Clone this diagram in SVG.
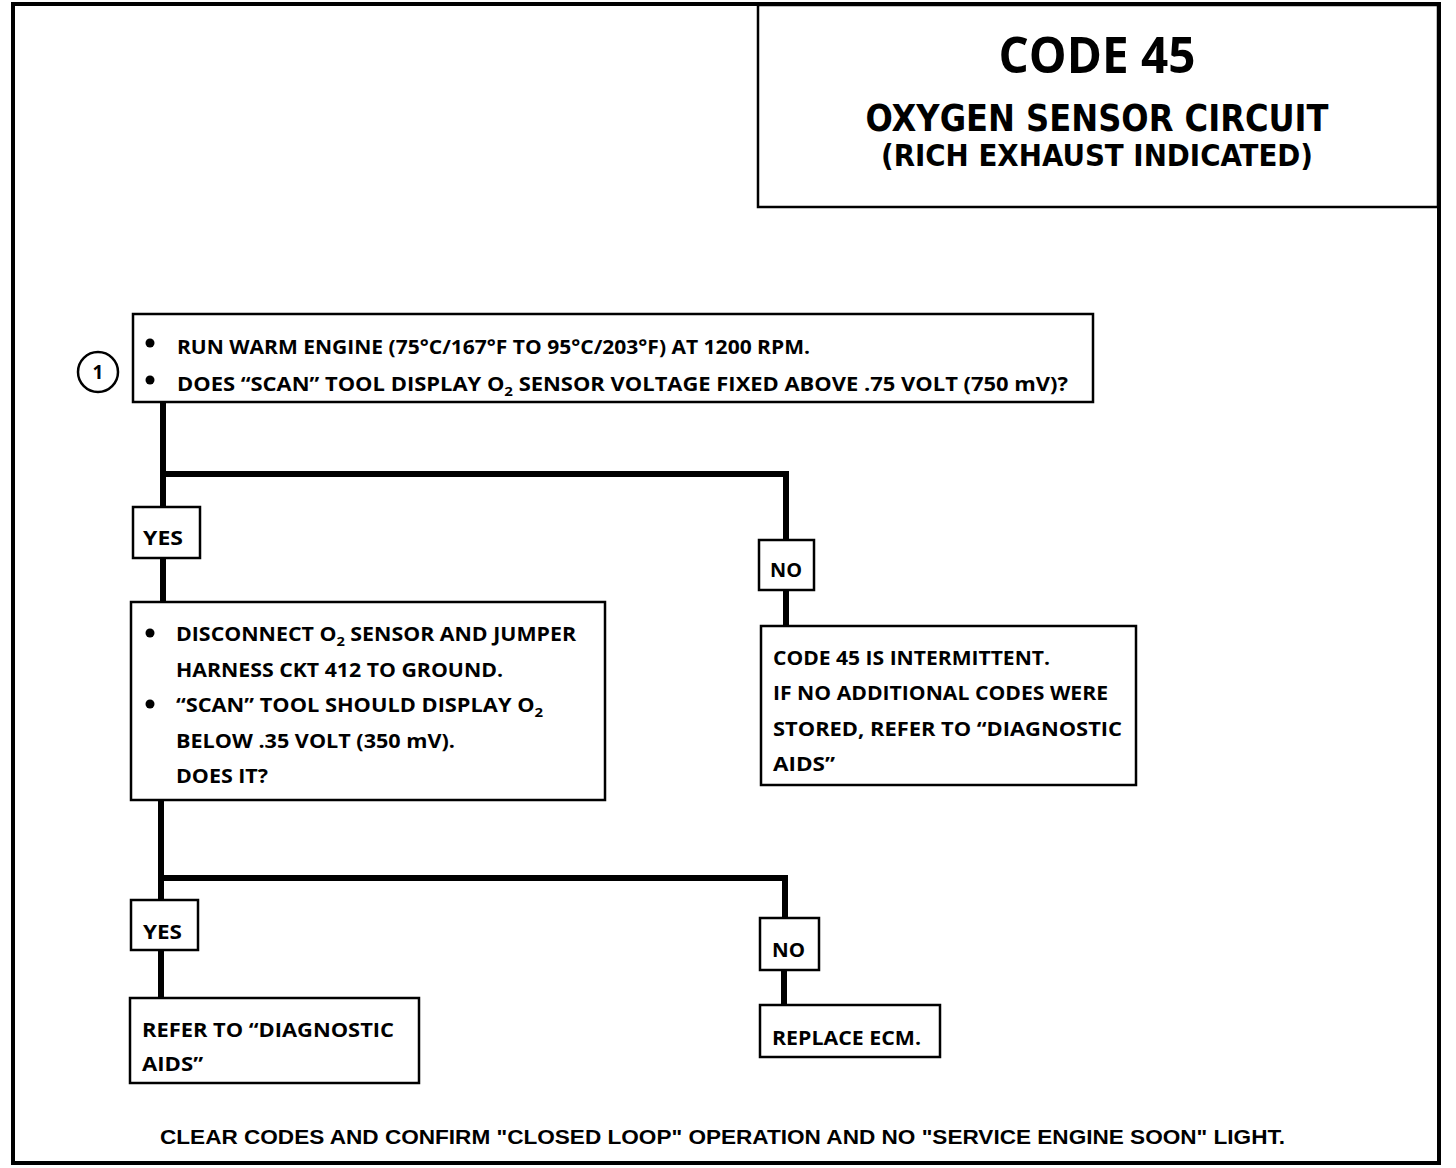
<svg xmlns="http://www.w3.org/2000/svg" width="1456" height="1168" viewBox="0 0 1456 1168">
<style>
.box{fill:#fff;stroke:#000;stroke-width:2.5}
.frame{fill:none;stroke:#000;stroke-width:4}
.conn{fill:none;stroke:#000;stroke-width:6;stroke-linejoin:miter;stroke-linecap:butt}
.t{font-family:"Open Sans","Noto Sans","DejaVu Sans",sans-serif;font-weight:bold;font-size:19px;fill:#000}
.title{font-family:"Open Sans","Noto Sans","DejaVu Sans",sans-serif;font-weight:bold;fill:#000;text-anchor:middle}
.title2{font-family:"DejaVu Sans Condensed","DejaVu Sans",sans-serif;font-stretch:condensed;font-weight:bold;fill:#000;text-anchor:middle}
.foot{font-family:"Liberation Sans",Arial,sans-serif;font-weight:bold;font-size:20px;fill:#000}
.sub{font-size:13px}
</style>
<rect width="1456" height="1168" fill="#fff"/>
<rect class="frame" x="13" y="4" width="1426" height="1159"/>
<g id="title">
<rect class="box" x="758" y="5" width="680" height="202"/>
<text class="title" x="1097" y="73" font-size="50" textLength="197" lengthAdjust="spacingAndGlyphs">CODE 45</text>
<text class="title2" x="1097" y="131" font-size="38" textLength="463" lengthAdjust="spacingAndGlyphs">OXYGEN SENSOR CIRCUIT</text>
<text class="title2" x="1097" y="166" font-size="30" textLength="432" lengthAdjust="spacingAndGlyphs">(RICH EXHAUST INDICATED)</text>
</g>
<g id="connectors">
<polyline class="conn" points="163,402 163,507"/>
<polyline class="conn" points="163,474 786,474 786,540"/>
<polyline class="conn" points="163,558 163,602"/>
<polyline class="conn" points="786,590 786,625"/>
<polyline class="conn" points="161,800 161,900"/>
<polyline class="conn" points="161,878 785,878 785,918"/>
<polyline class="conn" points="161,950 161,998"/>
<polyline class="conn" points="784,970 784,1005"/>
</g>
<g id="step1">
<circle cx="98" cy="372" r="20" fill="#fff" stroke="#000" stroke-width="2.5"/>
<text class="t" x="98" y="379" text-anchor="middle" font-size="17">1</text>
<rect class="box" x="133" y="314" width="960" height="88"/>
<circle cx="150" cy="343" r="4.5"/>
<text class="t" x="177" y="354" textLength="633" lengthAdjust="spacingAndGlyphs">RUN WARM ENGINE  (75°C/167°F TO 95°C/203°F) AT 1200 RPM.</text>
<circle cx="150" cy="380" r="4.5"/>
<text class="t" x="177" y="391" textLength="891" lengthAdjust="spacingAndGlyphs">DOES “SCAN” TOOL DISPLAY O<tspan class="sub" dy="5">2</tspan><tspan dy="-5"> SENSOR  VOLTAGE  FIXED ABOVE .75 VOLT  (750 mV)?</tspan></text>
</g>
<g id="yes1">
<rect class="box" x="133" y="507" width="67" height="51"/>
<text class="t" x="143" y="545" textLength="40" lengthAdjust="spacingAndGlyphs">YES</text>
</g>
<g id="no1">
<rect class="box" x="759" y="540" width="55" height="50"/>
<text class="t" x="770" y="577" textLength="32" lengthAdjust="spacingAndGlyphs">NO</text>
</g>
<g id="step2">
<rect class="box" x="131" y="602" width="474" height="198"/>
<circle cx="150" cy="633" r="4.5"/>
<text class="t" x="176" y="641" textLength="400" lengthAdjust="spacingAndGlyphs">DISCONNECT O<tspan class="sub" dy="5">2</tspan><tspan dy="-5"> SENSOR AND JUMPER</tspan></text>
<text class="t" x="176" y="677" textLength="327" lengthAdjust="spacingAndGlyphs">HARNESS CKT 412 TO GROUND.</text>
<circle cx="150" cy="704" r="4.5"/>
<text class="t" x="176" y="712" textLength="367" lengthAdjust="spacingAndGlyphs">“SCAN” TOOL SHOULD DISPLAY O<tspan class="sub" dy="5">2</tspan></text>
<text class="t" x="176" y="748" textLength="279" lengthAdjust="spacingAndGlyphs">BELOW .35 VOLT  (350 mV).</text>
<text class="t" x="176" y="783" textLength="92" lengthAdjust="spacingAndGlyphs">DOES IT?</text>
</g>
<g id="intermittent">
<rect class="box" x="761" y="626" width="375" height="159"/>
<text class="t" x="773" y="665" textLength="277" lengthAdjust="spacingAndGlyphs">CODE 45 IS INTERMITTENT.</text>
<text class="t" x="773" y="700" textLength="335" lengthAdjust="spacingAndGlyphs">IF NO ADDITIONAL CODES WERE</text>
<text class="t" x="773" y="736" textLength="349" lengthAdjust="spacingAndGlyphs">STORED, REFER TO  “DIAGNOSTIC</text>
<text class="t" x="773" y="771" textLength="62" lengthAdjust="spacingAndGlyphs">AIDS”</text>
</g>
<g id="yes2">
<rect class="box" x="131" y="900" width="67" height="50"/>
<text class="t" x="143" y="939" textLength="39" lengthAdjust="spacingAndGlyphs">YES</text>
</g>
<g id="no2">
<rect class="box" x="760" y="918" width="59" height="52"/>
<text class="t" x="772" y="957" textLength="33" lengthAdjust="spacingAndGlyphs">NO</text>
</g>
<g id="refer">
<rect class="box" x="130" y="998" width="289" height="85"/>
<text class="t" x="142" y="1037" textLength="252" lengthAdjust="spacingAndGlyphs">REFER TO  “DIAGNOSTIC</text>
<text class="t" x="142" y="1071" textLength="61" lengthAdjust="spacingAndGlyphs">AIDS”</text>
</g>
<g id="replace">
<rect class="box" x="760" y="1005" width="180" height="52"/>
<text class="t" x="772" y="1045" textLength="149" lengthAdjust="spacingAndGlyphs">REPLACE ECM.</text>
</g>
<text class="foot" x="160" y="1144" textLength="1125" lengthAdjust="spacingAndGlyphs">CLEAR CODES AND CONFIRM "CLOSED LOOP"  OPERATION AND NO "SERVICE  ENGINE SOON" LIGHT.</text>
</svg>
